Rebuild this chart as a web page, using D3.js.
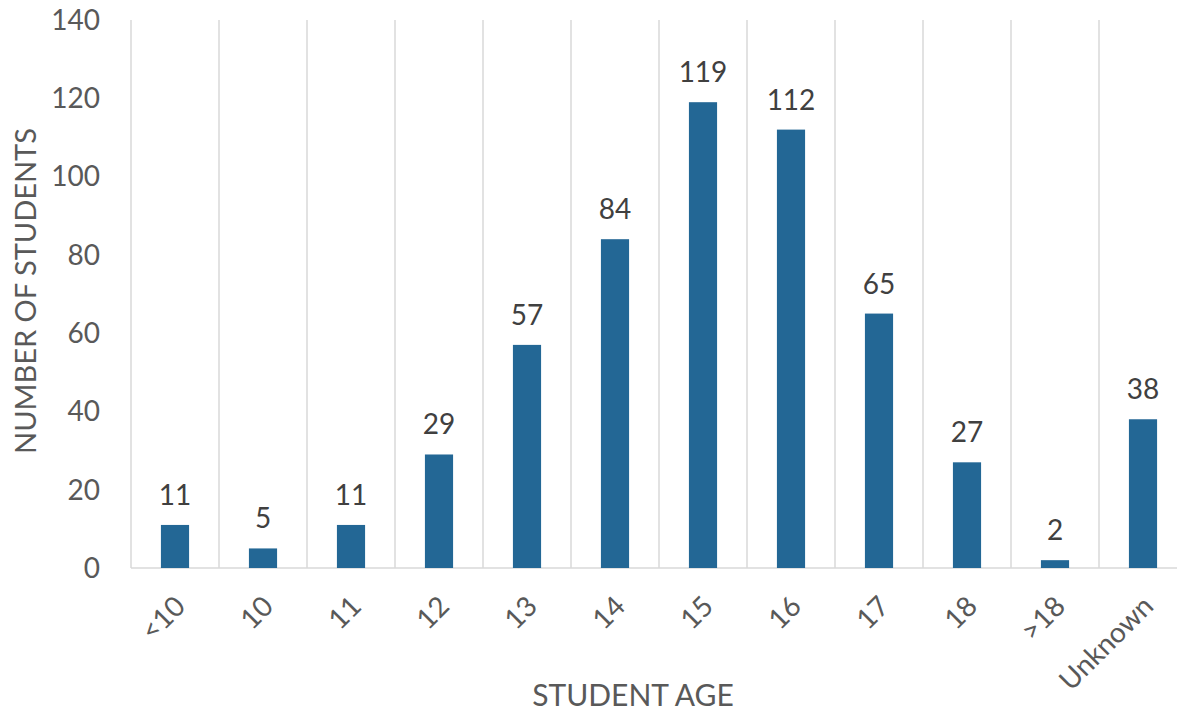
<!DOCTYPE html>
<html>
<head>
<meta charset="utf-8">
<script src="https://cdn.jsdelivr.net/npm/d3@7"></script>
<style>
  body { margin: 0; background: #fff; }
  text { font-family: Lato, 'Open Sans', sans-serif; }
</style>
</head>
<body>
<div id="chart"></div>
<script>
let ages = ['<10', '10', '11', '12', '13', '14', '15', '16', '17', '18', '>18', 'Unknown']
let students = [11, 5, 11, 29, 57, 84, 119, 112, 65, 27, 2, 38]
let yTicks = [0, 20, 40, 60, 80, 100, 120, 140]

let width = 1177, height = 711
let plot = { left: 131, right: 1187, top: 20, bottom: 568 }

let svg = d3.select('#chart')
.append('svg')
.attr('width', width)
.attr('height', height)

let data = ages.map((a, i) => ({ age: a, value: students[i] }))

let x = d3.scaleBand()
.domain(ages)
.range([plot.left, plot.right])
.paddingInner(0.68)
.paddingOuter(0.34)

let y = d3.scaleLinear()
.domain([0, 140])
.range([plot.bottom, plot.top])

let gap = (x.step() - x.bandwidth()) / 2

// vertical gridlines between categories
svg.selectAll('.grid')
.data(ages)
.join('line')
.attr('class', 'grid')
.attr('x1', d => x(d) - gap)
.attr('x2', d => x(d) - gap)
.attr('y1', plot.top)
.attr('y2', plot.bottom)
.attr('stroke', '#d9d9d9')
.attr('stroke-width', 1.5)

// baseline
svg.append('line')
.attr('x1', plot.left)
.attr('x2', plot.right)
.attr('y1', y(0))
.attr('y2', y(0))
.attr('stroke', '#d9d9d9')
.attr('stroke-width', 1.5)

// y tick labels
svg.selectAll('.ytick')
.data(yTicks)
.join('text')
.attr('class', 'ytick')
.attr('x', 100)
.attr('y', d => y(d))
.attr('dy', '0.35em')
.attr('text-anchor', 'end')
.attr('fill', '#595959')
.style('font-size', '28px')
.text(d => d)

// bars
svg.selectAll('.bar')
.data(data)
.join('rect')
.attr('class', 'bar')
.attr('x', d => x(d.age))
.attr('width', x.bandwidth())
.attr('y', d => y(d.value))
.attr('height', d => y(0) - y(d.value))
.attr('fill', '#236795')

// value labels
svg.selectAll('.label')
.data(data)
.join('text')
.attr('class', 'label')
.attr('x', d => x(d.age) + x.bandwidth() / 2)
.attr('y', d => y(d.value) - 20)
.attr('text-anchor', 'middle')
.attr('fill', '#404040')
.style('font-size', '28px')
.text(d => d.value)

// x tick labels, rotated
svg.selectAll('.xtick')
.data(ages)
.join('text')
.attr('class', 'xtick')
.attr('text-anchor', 'end')
.attr('fill', '#595959')
.style('font-size', '28px')
.attr('transform', d => `translate(${x(d) + x.bandwidth() / 2 + 12}, 608) rotate(-45)`)
.text(d => d)

// axis titles
svg.append('text')
.attr('x', 633)
.attr('y', 706)
.attr('text-anchor', 'middle')
.attr('fill', '#595959')
.style('font-size', '30px')
.text('STUDENT AGE')

svg.append('text')
.attr('transform', `translate(36, 291) rotate(-90)`)
.attr('text-anchor', 'middle')
.attr('fill', '#595959')
.style('font-size', '29px')
.text('NUMBER OF STUDENTS')
</script>
</body>
</html>
